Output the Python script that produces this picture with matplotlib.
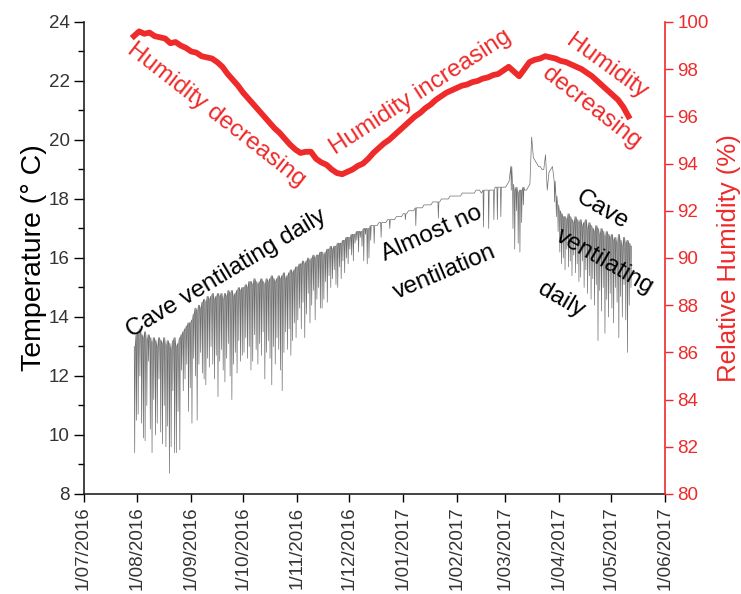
import numpy as np
import matplotlib
matplotlib.use('Agg')
import matplotlib.pyplot as plt
import matplotlib.dates as mdates
import datetime as dt

plt.rcParams['font.family'] = ['Liberation Sans', 'DejaVu Sans']

nan = np.nan
# ---------------- data (daily, starting 30/07/2016) ----------------
temp_start = dt.date(2016, 7, 30)
t_max_jul = [13.0, 13.4]
t_max_aug = [13.5, 13.6, 13.4, 13.3, 13.5, 13.2, 13.4, 13.3, 13.1, 13.3, 13.2, 13.0, 13.3, 13.2, 13.1, 13.3,
             13.0, 13.2, 13.1, 12.9, 13.2, 13.3, 13.0, 13.1, 13.3, 13.4, 13.5, 13.6, 13.7, 13.8, 13.8]
t_max_sep = [13.9, 14.1, 14.3, 14.2, 14.4, 14.3, 14.5, 14.6, 14.5, 14.7, 14.6, 14.7, 14.8, 14.6, 14.7, 14.8,
             14.7, 14.8, 14.6, 14.8, 14.7, 14.9, 14.8, 14.9, 14.7, 14.8, 14.9, 15.0, 14.9, 15.0]
t_max_oct = [15.0, 15.1, 15.0, 15.2, 15.2, 15.1, 15.3, 15.2, 15.1, 15.2, 15.3, 15.2, 15.1, 15.3, 15.2, 15.3,
             15.4, 15.3, 15.2, 15.3, 15.4, 15.3, 15.4, 15.5, 15.3, 15.4, 15.5, 15.6, 15.5, 15.6, 15.7]
t_max_nov = [15.7, 15.8, 15.8, 15.9, 15.8, 15.9, 16.0, 15.9, 16.0, 16.1, 16.0, 16.1, 16.1, 16.2, 16.2, 16.1,
             16.2, 16.3, 16.3, 16.4, 16.3, 16.4, 16.4, 16.5, 16.5, 16.5, 16.6, 16.6, 16.7, 16.7]
t_max_dec = [16.7, 16.8, 16.8, 16.8, 16.9, 16.9, 16.9, 16.9, 17.0, 17.0, 17.0, 17.0, 17.1, 17.1, 17.1, 17.1,
             17.1, 17.2, 17.2, 17.2, 17.2, 17.2, 17.3, 17.3, 17.3, 17.3, 17.3, 17.4, 17.4, 17.4, 17.4]
t_max_jan = [17.5, 17.5, 17.5, 17.6, 17.6, 17.6, 17.6, 17.7, 17.7, 17.7, 17.7, 17.7, 17.8, 17.8, 17.8, 17.8,
             17.8, 17.9, 17.9, 17.9, 17.9, 17.9, 18.0, 18.0, 18.0, 18.0, 18.0, 18.1, 18.1, 18.1, 18.1]
t_max_feb = [18.1, 18.1, 18.1, 18.2, 18.2, 18.2, 18.2, 18.2, 18.2, 18.2, 18.2, 18.3, 18.3, 18.3, 18.2, 18.3,
             18.3, 18.3, 18.3, 18.3, 18.3, 18.3, 18.4, 18.4, 18.4, 18.4, 18.4, 18.4]
t_max_mar = [18.4, 18.5, 18.6, 19.1, 18.5, 18.3, 18.4, 18.2, 18.3, 18.3, 18.4, 18.3, 18.3, 18.4, 18.5, 20.1,
             19.4, 19.3, 19.2, 19.1, 19.1, 19.0, 19.0, 19.5, 18.3, 18.9, 19.0, 19.1, 18.6, 18.1, 17.8]
t_max_apr = [17.6, 17.5, 17.4, 17.4, 17.3, 17.5, 17.4, 17.3, 17.2, 17.4, 17.3, 17.2, 17.3, 17.1, 17.2, 17.3,
             17.0, 17.2, 17.1, 17.0, 16.9, 17.1, 17.0, 16.8, 17.0, 16.9, 16.7, 16.9, 16.8, 16.7]
t_max_may = [16.8, 16.6, 16.7, 16.5, 16.8, 16.6, 16.4, 16.7, 16.5, 16.6, 16.5, 16.4]

# daily minimum (ventilation dips); nan = no dip that day
t_min_jul = [9.4, 10.5]
t_min_aug = [10.7, 12.0, 10.4, 9.9, 9.8, 11.0, 12.5, 10.2, 9.4, 11.2, 10.0, 10.4, 11.9, 10.1, 9.7, 11.0,
             9.6, 10.3, 8.7, 9.6, 11.5, 9.4, 9.4, 10.8, 9.5, 12.2, 11.5, 11.9, 12.4, 10.8, 11.6]
t_min_sep = [10.4, 12.6, 12.0, 10.5, 12.4, 12.8, 12.1, 11.9, 11.7, 12.6, 12.3, 13.0, 12.4, 11.9, 12.7, 11.3,
             12.5, 12.9, 12.2, 11.8, 12.6, 13.1, 12.0, 11.2, 12.4, 12.8, 12.1, 13.2, 12.5, 12.7]
t_min_oct = [12.8, 13.3, 12.6, 13.0, 12.2, 12.5, 13.4, 12.9, 12.4, 13.1, 12.7, 13.5, 11.9, 12.8, 13.2, 12.6,
             11.7, 13.0, 12.4, 13.3, 12.9, 12.2, 11.5, 12.8, 13.5, 12.9, 13.6, 12.7, 13.2, 13.8, 13.3]
t_min_nov = [13.9, 14.3, 13.6, 14.5, 13.3, 14.1, 14.8, 13.8, 14.4, 14.9, 13.9, 14.6, 15.0, 14.3, 14.3, 14.6,
             15.2, 14.5, 15.4, 15.0, 15.3, 15.6, 15.1, 15.0, 15.7, 15.3, 15.9, 15.5, 16.0, 15.8]
t_min_dec = [16.3, 16.1, 15.9, 16.5, 16.6, 16.2, 16.7, 16.4, 15.9, 16.8, 15.8, 16.0, 16.6, nan, 16.5, nan,
             nan, nan, 16.7, nan, nan, nan, nan, 17.0, nan, nan, nan, nan, nan, nan, nan]
t_min_jan = [nan, 17.3, nan, nan, nan, nan, nan, 17.1, nan, nan, nan, nan, nan, nan, nan, nan,
             nan, nan, nan, nan, 17.35, nan, nan, nan, nan, nan, nan, nan, nan, nan, nan]
t_min_feb = [nan, nan, nan, nan, nan, nan, nan, nan, nan, nan, nan, nan, nan, nan, nan, 17.05,
             nan, nan, 17.0, nan, nan, 17.3, nan, 17.3, nan, 17.4, nan, nan]
t_min_mar = [nan, nan, nan, 18.3, 17.0, 16.3, 17.6, 16.5, 16.2, 17.2, 17.8, nan, nan, nan, nan, nan,
             nan, nan, nan, nan, nan, nan, nan, nan, nan, nan, nan, nan, 17.9, 17.4, 16.9]
t_min_apr = [16.2, 15.8, 16.0, 15.6, 16.3, 15.7, 15.9, 15.4, 16.1, 15.5, 15.8, 15.2, 15.35, 15.9, 15.0, 15.6,
             14.8, 15.4, 14.6, 15.3, 14.4, 15.1, 13.2, 14.9, 14.2, 15.0, 13.45, 14.6, 14.0, 14.8]
t_min_may = [14.3, 13.8, 15.0, 14.5, 13.3, 14.7, 14.0, 15.1, 13.9, 12.8, 14.4, 15.0]

# relative humidity, every 3 days starting 30/07/2016
hum_start = dt.date(2016, 7, 30)
hum_step_days = 3
humidity = [99.4, 99.6, 99.5, 99.55, 99.4, 99.35, 99.3, 99.1, 99.15, 99.0, 98.9, 98.75, 98.7, 98.55, 98.5, 98.45,
            98.3, 98.1, 97.8, 97.55, 97.3, 97.0, 96.75, 96.5, 96.25, 96.0, 95.75, 95.5, 95.3, 95.05, 94.8, 94.6,
            94.45, 94.5, 94.5, 94.2, 94.05, 93.95, 93.75, 93.6, 93.55, 93.65, 93.75, 93.9, 94.0, 94.2, 94.45, 94.65,
            94.85, 95.0, 95.2, 95.4, 95.6, 95.8, 96.0, 96.15, 96.35, 96.5, 96.7, 96.85, 97.0, 97.1, 97.2, 97.3,
            97.35, 97.45, 97.5, 97.6, 97.65, 97.75, 97.8, 97.95, 98.1, 97.9, 97.7, 98.0, 98.3, 98.4, 98.45, 98.55,
            98.5, 98.45, 98.35, 98.3, 98.2, 98.1, 98.0, 97.85, 97.7, 97.5, 97.3, 97.1, 96.9, 96.7, 96.4, 96.0]

x_ticks = [dt.date(2016, m, 1) for m in range(7, 13)] + [dt.date(2017, m, 1) for m in range(1, 7)]
temp_ticks = [8, 10, 12, 14, 16, 18, 20, 22, 24]
hum_ticks = [80, 82, 84, 86, 88, 90, 92, 94, 96, 98, 100]

# ---------------- assemble ----------------
t_max = np.array(t_max_jul + t_max_aug + t_max_sep + t_max_oct + t_max_nov + t_max_dec +
                 t_max_jan + t_max_feb + t_max_mar + t_max_apr + t_max_may)
t_min = np.array(t_min_jul + t_min_aug + t_min_sep + t_min_oct + t_min_nov + t_min_dec +
                 t_min_jan + t_min_feb + t_min_mar + t_min_apr + t_min_may)
base = mdates.date2num(temp_start) + np.arange(len(t_max))
tx, ty = [], []
for b, hi, lo in zip(base, t_max, t_min):
    tx.append(b + 0.2); ty.append(hi)
    if not np.isnan(lo):
        tx += [b + 0.45, b + 0.75]
        ty += [lo, hi]

hx = mdates.date2num(hum_start) + hum_step_days * np.arange(len(humidity))

RED = '#EE2A2A'
GREY_TXT = '#333333'
W, H = 741, 594

fig = plt.figure(figsize=(W / 100, H / 100), dpi=100)
ax = fig.add_axes([0.1128, 0.1684, 0.7845, 0.7946])
ax2 = ax.twinx()

ax.plot(tx, ty, color='#6e6e6e', lw=0.5)
ax2.plot(hx, humidity, color=RED, lw=4.2, solid_joinstyle='round')

ax.set_xlim(mdates.date2num(dt.date(2016, 7, 1)), mdates.date2num(dt.date(2017, 6, 1)))
ax.set_ylim(8, 24)
ax2.set_ylim(80, 100)

ax.set_xticks(mdates.date2num(x_ticks))
ax.set_xticklabels([f"{d.day}/{d.month:02d}/{d.year}" for d in x_ticks], rotation=90, fontsize=13.5,
                   color=GREY_TXT)
ax.set_yticks(temp_ticks)
ax.set_yticks(np.arange(9, 24, 2), minor=True)
ax.tick_params(axis='y', labelsize=13.5, labelcolor=GREY_TXT, direction='out', length=7, width=1, pad=3)
ax.tick_params(axis='y', which='minor', direction='out', length=4, width=1)
ax.tick_params(axis='x', direction='out', length=6, width=1, pad=3)
ax2.set_yticks(hum_ticks)
ax2.tick_params(axis='y', labelsize=13.5, labelcolor=RED, color=RED, direction='out', length=6, width=1, pad=3)

for a in (ax, ax2):
    a.spines['top'].set_visible(False)
ax.spines['right'].set_visible(False)
ax2.spines['left'].set_visible(False)
ax2.spines['bottom'].set_visible(False)
ax2.spines['right'].set_color(RED)
ax.spines['left'].set_color('#222222')
ax.spines['bottom'].set_color('#222222')
ax.spines['left'].set_linewidth(1.2)
ax.spines['bottom'].set_linewidth(1.2)
ax2.spines['right'].set_linewidth(1.2)

ax.set_ylabel('Temperature (° C)', fontsize=20.5, color='black', labelpad=1)
ax2.set_ylabel('Relative Humidity (%)', fontsize=18.5, color=RED, labelpad=6)


def place(xpx, ypx):
    """pixel position in the output image -> data coordinates of ax"""
    return ax.transData.inverted().transform((xpx, H - ypx))


fs = 17.5
labels = [
    ('Humidity decreasing', 216, 115, -38, RED),
    ('Humidity increasing', 421, 92, 33, RED),
    ('Humidity', 607, 67, -36, RED),
    ('decreasing', 591, 108, -38, RED),
    ('Cave ventilating daily', 226, 274, 31, 'black'),
    ('Almost no', 432, 234, 24, 'black'),
    ('ventilation', 445, 272, 23, 'black'),
    ('Cave', 602, 210, -30, 'black'),
    ('ventilating', 605, 262, -30, 'black'),
    ('daily', 561, 300, -30, 'black'),
]
for s, xp, yp, rot, col in labels:
    xd, yd = place(xp, yp)
    ax.text(xd, yd, s, color=col, fontsize=fs, rotation=rot, rotation_mode='anchor',
            ha='center', va='center')

fig.savefig('out.png', dpi=100)
